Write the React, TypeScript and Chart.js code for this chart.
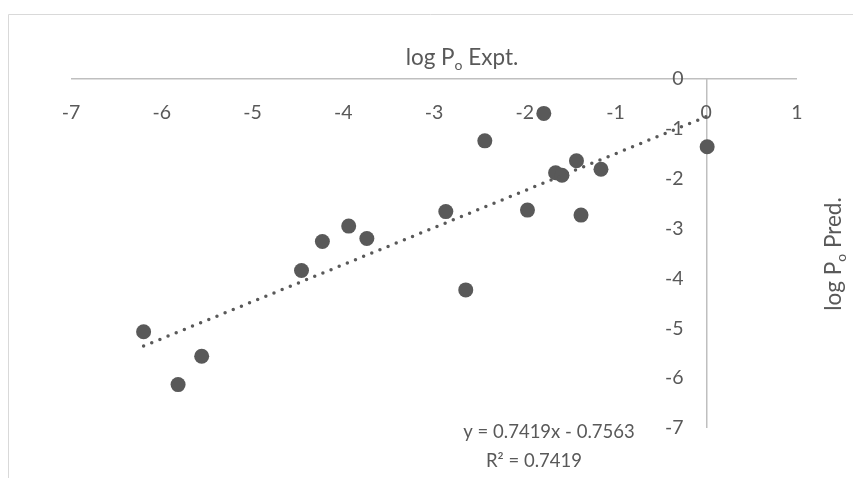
import React, { useEffect, useRef } from "react";
import { Chart, registerables } from "chart.js";

Chart.register(...registerables);

// Data (log Po Expt. vs log Po Pred.)
const EXPT_X = [-6.2, -5.82, -5.56, -4.46, -4.23, -3.94, -3.74, -2.87, -2.65, -2.44, -1.97, -1.79, -1.66, -1.59, -1.43, -1.38, -1.16, 0.01];
const PRED_Y = [-5.07, -6.13, -5.56, -3.84, -3.26, -2.95, -3.2, -2.66, -4.23, -1.24, -2.63, -0.69, -1.88, -1.93, -1.64, -2.73, -1.81, -1.36];

// Linear trendline as reported on the chart
const TREND_SLOPE = 0.7419;
const TREND_INTERCEPT = -0.7563;
const R_SQUARED = 0.7419;

const X_TICKS = [-7, -6, -5, -4, -3, -2, -1, 0, 1];
const Y_TICKS = [0, -1, -2, -3, -4, -5, -6, -7];

const X_TITLE = ["log P", "o", " Expt."];
const Y_TITLE = ["log P", "o", " Pred."];

const TEXT = "#595959";
const FONT = "Lato, 'Open Sans', sans-serif";

type Part = { t: string; size: number; dy: number };

function drawRich(ctx: CanvasRenderingContext2D, parts: Part[], x: number, y: number, rot: number) {
  ctx.save();
  ctx.translate(x, y);
  ctx.rotate(rot);
  ctx.textBaseline = "alphabetic";
  ctx.textAlign = "left";
  ctx.fillStyle = TEXT;
  let total = 0;
  const widths = parts.map((p) => {
    ctx.font = `${p.size}px ${FONT}`;
    const w = ctx.measureText(p.t).width;
    total += w;
    return w;
  });
  let cx = -total / 2;
  parts.forEach((p, i) => {
    ctx.font = `${p.size}px ${FONT}`;
    ctx.fillText(p.t, cx, p.dy);
    cx += widths[i];
  });
  ctx.restore();
}

const decorPlugin = {
  id: "decor",
  beforeDraw(chart: any) {
    const ctx = chart.ctx as CanvasRenderingContext2D;
    ctx.save();
    ctx.strokeStyle = "#d9d9d9";
    ctx.lineWidth = 1;
    ctx.beginPath();
    ctx.moveTo(8.5, 478);
    ctx.lineTo(8.5, 14.5);
    ctx.lineTo(853, 14.5);
    ctx.stroke();
    ctx.restore();
  },
  afterDraw(chart: any) {
    const ctx = chart.ctx as CanvasRenderingContext2D;
    const sizes = [22.5, 14, 22.5];
    const dys = [0, 4.5, 0];
    drawRich(ctx, X_TITLE.map((t, i) => ({ t, size: sizes[i], dy: dys[i] })), 462, 65, 0);
    drawRich(ctx, Y_TITLE.map((t, i) => ({ t, size: sizes[i], dy: dys[i] })), 841, 254, -Math.PI / 2);
    const sign = TREND_INTERCEPT < 0 ? "-" : "+";
    const eq = `y = ${TREND_SLOPE.toFixed(4)}x ${sign} ${Math.abs(TREND_INTERCEPT).toFixed(4)}`;
    const r2 = `R\u00B2 = ${R_SQUARED.toFixed(4)}`;
    drawRich(ctx, [{ t: eq, size: 18.5, dy: 0 }], 549, 438, 0);
    drawRich(ctx, [{ t: r2, size: 18.5, dy: 0 }], 534, 467, 0);
  },
};

export default function App() {
  const ref = useRef<HTMLCanvasElement | null>(null);
  useEffect(() => {
    if (!ref.current) return;
    const points = EXPT_X.map((x, i) => ({ x, y: PRED_Y[i] }));
    const xMin = Math.min(...EXPT_X);
    const xMax = Math.max(...EXPT_X);
    const trend = [
      { x: xMin, y: TREND_SLOPE * xMin + TREND_INTERCEPT },
      { x: xMax, y: TREND_SLOPE * xMax + TREND_INTERCEPT },
    ];
    const axisLine = (c: any) => (c.tick && c.tick.value === 0 ? "#bfbfbf" : "rgba(0,0,0,0)");
    const chart = new Chart(ref.current, {
      type: "scatter",
      data: {
        datasets: [
          {
            type: "scatter",
            label: "Pred",
            data: points,
            pointRadius: 7.5,
            pointHoverRadius: 7.5,
            pointBackgroundColor: TEXT,
            pointBorderWidth: 0,
            order: 2,
          },
          {
            type: "line",
            label: "Trend",
            data: trend,
            borderColor: TEXT,
            borderWidth: 3.5,
            borderDash: [0, 8.8],
            borderCapStyle: "round",
            pointRadius: 0,
            fill: false,
            order: 1,
          } as any,
        ],
      },
      options: {
        responsive: false,
        animation: false,
        devicePixelRatio: 1,
        layout: { padding: { left: 71, right: 56, top: 79, bottom: 50 } },
        plugins: { legend: { display: false }, tooltip: { enabled: false } },
        scales: {
          x: {
            type: "linear",
            position: { y: 0 } as any,
            min: -7,
            max: 1,
            afterBuildTicks: (s: any) => {
              s.ticks = X_TICKS.map((v) => ({ value: v }));
            },
            border: { display: false },
            grid: { display: true, drawTicks: false, tickLength: 0, color: axisLine, lineWidth: 1.5 },
            ticks: {
              autoSkip: false,
              maxRotation: 0,
              padding: 22,
              color: TEXT,
              font: { family: FONT, size: 19.5 },
            },
          },
          y: {
            type: "linear",
            position: { x: -0.25 } as any,
            min: -7,
            max: 0,
            afterBuildTicks: (s: any) => {
              s.ticks = Y_TICKS.map((v) => ({ value: v }));
            },
            border: { display: false },
            grid: { display: true, drawTicks: false, tickLength: 0, color: axisLine, lineWidth: 1.5 },
            ticks: {
              autoSkip: false,
              padding: 0,
              color: TEXT,
              font: { family: FONT, size: 19.5 },
            },
          },
        },
      },
      plugins: [decorPlugin],
    });
    return () => chart.destroy();
  }, []);
  return (
    <div style={{ position: "fixed", left: 0, top: 0, width: 853, height: 478, background: "#fff" }}>
      <canvas ref={ref} width={853} height={478} style={{ display: "block" }} />
    </div>
  );
}
